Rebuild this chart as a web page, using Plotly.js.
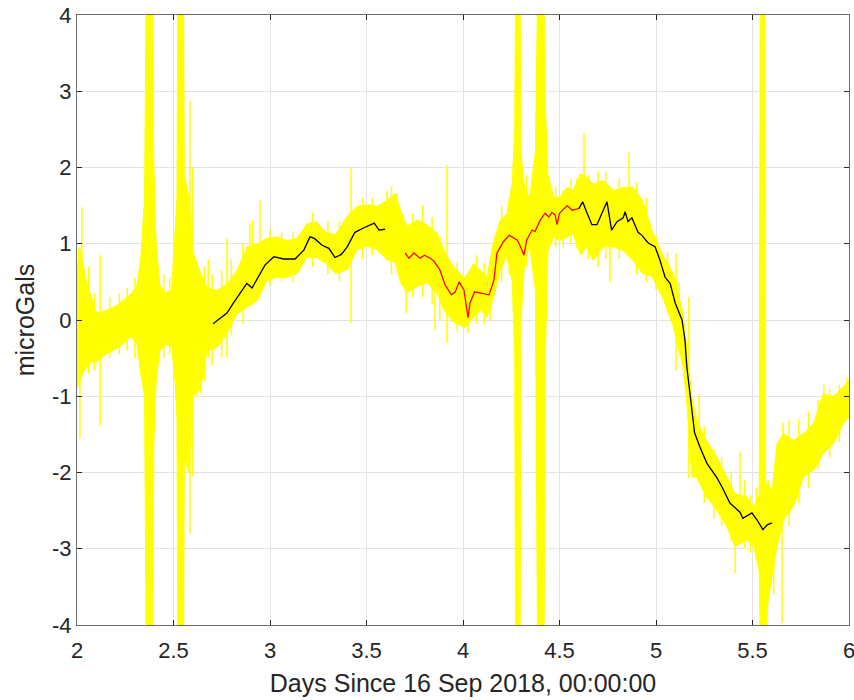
<!DOCTYPE html>
<html>
<head>
<meta charset="utf-8">
<script src="https://cdn.plot.ly/plotly-3.0.1.min.js"></script>
<style>html,body{margin:0;padding:0;background:#fff;}#chart{width:854px;height:700px;}</style>
</head>
<body>
<div id="chart"></div>
<script>
// ---- yellow raw-data envelope ----
const bandX  = [2.000,2.010,2.030,2.050,2.075,2.100,2.125,2.155,2.200,2.240,2.280,2.310,2.330,2.350,2.358,2.392,2.398,2.410,2.430,2.460,2.490,2.508,2.518,2.522,2.552,2.556,2.580,2.600,2.640,2.674,2.726,2.777,2.829,2.881,2.933,2.985,3.036,3.088,3.140,3.190,3.240,3.290,3.340,3.400,3.450,3.503,3.555,3.606,3.650,3.676,3.710,3.762,3.813,3.865,3.900,3.950,4.010,4.055,4.090,4.124,4.159,4.193,4.228,4.255,4.268,4.272,4.296,4.300,4.320,4.345,4.375,4.386,4.420,4.426,4.440,4.470,4.500,4.540,4.570,4.610,4.640,4.675,4.727,4.780,4.830,4.880,4.930,4.980,5.040,5.090,5.140,5.160,5.186,5.210,5.262,5.314,5.365,5.410,5.471,5.506,5.535,5.540,5.563,5.568,5.580,5.600,5.627,5.660,5.712,5.764,5.816,5.867,5.920,5.970,6.000];
const bandHi = [0.60,0.95,0.75,0.48,0.30,0.10,0.10,0.13,0.18,0.26,0.34,0.45,0.80,1.60,4.2,4.2,2.05,1.00,0.45,0.35,0.40,1.15,1.60,4.2,4.2,1.90,1.60,0.90,0.61,0.43,0.39,0.47,0.65,0.96,1.00,1.07,1.09,1.04,1.07,1.26,1.29,1.15,1.12,1.36,1.49,1.51,1.49,1.57,1.66,1.44,1.23,1.31,1.25,1.14,0.92,0.70,0.55,0.74,0.65,0.56,1.04,1.31,1.39,1.80,2.5,4.2,4.2,2.2,1.70,1.61,2.2,4.2,4.2,2.85,1.9,1.61,1.61,1.74,1.70,1.92,1.87,1.78,1.83,1.70,1.74,1.74,1.57,1.17,0.83,0.61,0.09,-0.35,-1.00,-1.31,-1.58,-1.79,-2.05,-2.28,-2.32,-2.45,-2.3,4.2,4.2,-2.2,-2.1,-2.28,-1.62,-1.49,-1.58,-1.49,-1.36,-0.97,-1.00,-0.88,-0.79];
const bandLo = [-0.90,-0.85,-0.70,-0.62,-0.55,-0.55,-0.50,-0.44,-0.38,-0.31,-0.22,-0.30,-0.70,-1.00,-4.2,-4.2,-1.60,-0.80,-0.40,-0.32,-0.35,-0.80,-1.30,-4.2,-4.2,-1.80,-2.00,-1.00,-0.90,-0.40,-0.36,-0.18,0.08,0.17,0.25,0.52,0.56,0.56,0.61,0.82,0.82,0.74,0.61,0.66,0.92,0.97,0.92,0.79,0.75,0.49,0.36,0.44,0.49,0.36,0.14,-0.03,-0.10,0.04,0.13,0.04,0.30,0.65,0.83,0.50,-0.5,-4.2,-4.2,0.0,0.80,0.96,0.4,-4.2,-4.2,-0.5,0.9,1.09,1.04,1.09,1.13,0.85,0.96,0.78,0.96,0.96,0.91,0.78,0.61,0.57,0.26,-0.09,-0.61,-1.10,-2.06,-2.06,-2.32,-2.49,-2.70,-2.97,-2.89,-2.97,-3.3,-4.2,-4.2,-4.2,-3.7,-3.37,-2.97,-2.62,-2.45,-2.06,-1.97,-1.75,-1.62,-1.36,-1.27];

// yellow spikes sticking out of the band (x, top, bottom)
const spikeX   = [2.015,2.025,2.060,2.090,2.120,2.170,2.220,2.260,2.300,2.450,2.480,2.585,2.600,2.620,2.640,2.660,2.680,2.700,2.750,2.777,2.800,2.860,2.896,2.910,2.948,3.000,3.060,3.120,3.220,3.300,3.360,3.420,3.480,3.530,3.606,3.630,3.658,3.705,3.740,3.790,3.840,3.855,3.880,3.917,3.970,4.026,4.070,4.110,4.140,4.200,4.240,4.330,4.360,4.480,4.520,4.560,4.590,4.627,4.650,4.700,4.740,4.762,4.810,4.860,4.900,4.950,5.000,5.060,5.104,5.120,5.170,5.223,5.250,5.300,5.340,5.390,5.410,5.435,5.460,5.490,5.520,5.610,5.653,5.658,5.690,5.740,5.790,5.840,5.870,5.900,5.950,5.990];
const spikeTop = [0.95,1.48,0.70,0.35,0.85,0.30,0.35,0.42,0.55,0.60,0.55,2.88,2.00,0.75,0.61,0.70,0.80,0.60,0.65,1.07,0.80,1.00,1.27,1.30,1.57,1.20,1.15,1.15,1.40,1.30,1.30,1.99,1.60,1.60,1.70,1.75,1.66,1.20,1.40,1.50,1.35,1.10,1.10,2.03,0.75,0.40,0.85,0.75,0.80,1.50,1.60,1.90,1.80,1.75,1.70,1.85,1.85,2.45,1.90,1.95,1.95,1.20,1.85,2.20,1.80,1.60,1.10,0.90,0.87,0.50,0.30,-0.97,-1.40,-1.70,-1.80,-2.00,-2.40,-1.72,-2.10,-2.30,-2.20,-2.00,-2.50,-1.35,-1.30,-1.30,-1.20,-1.05,-0.85,-0.90,-0.85,-0.75];
const spikeBot = [-1.55,0.20,-0.70,-0.66,-1.38,-0.50,-0.45,-0.40,-0.50,-0.50,-0.45,-2.80,-2.05,-1.00,-0.96,-0.80,-0.50,-0.60,-0.50,-0.49,-0.20,-0.05,0.20,0.20,0.40,0.45,0.50,0.50,0.70,0.60,0.50,-0.04,0.80,0.85,0.90,0.60,0.80,0.09,0.30,0.30,0.20,-0.13,0.00,-0.30,-0.15,-0.17,-0.05,-0.05,0.00,0.50,0.60,0.70,0.80,0.95,0.95,1.00,0.95,1.20,0.80,0.70,0.80,0.50,0.80,1.00,0.60,0.50,0.40,0.10,-0.66,-0.40,-2.07,-2.00,-2.40,-2.60,-2.70,-2.90,-3.32,-2.60,-3.00,-3.05,-3.10,-3.60,-3.97,-2.40,-2.70,-2.40,-2.20,-1.95,-1.70,-1.80,-1.60,-1.30];

// ---- filtered segments ----
const black1X = [2.705,2.740,2.777,2.810,2.845,2.880,2.907,2.930,2.950,2.974,3.020,3.070,3.130,3.176,3.207,3.230,3.270,3.305,3.337,3.370,3.400,3.440,3.487,3.540,3.565,3.596];
const black1Y = [-0.05,0.02,0.09,0.22,0.35,0.48,0.42,0.52,0.62,0.72,0.83,0.80,0.80,0.92,1.09,1.07,0.98,0.94,0.82,0.86,0.96,1.15,1.21,1.27,1.18,1.19];

const redX = [3.700,3.720,3.746,3.777,3.800,3.830,3.850,3.880,3.907,3.940,3.960,3.980,4.005,4.026,4.036,4.060,4.098,4.135,4.160,4.176,4.210,4.240,4.280,4.295,4.316,4.330,4.358,4.373,4.400,4.425,4.445,4.460,4.477,4.487,4.500,4.540,4.565,4.600];
const redY = [0.88,0.81,0.88,0.81,0.85,0.81,0.77,0.66,0.46,0.33,0.37,0.50,0.39,0.03,0.22,0.37,0.35,0.33,0.52,0.88,1.03,1.11,1.05,0.98,0.85,1.05,1.18,1.16,1.31,1.40,1.35,1.41,1.38,1.25,1.40,1.50,1.44,1.46];

const black2X = [4.600,4.620,4.640,4.668,4.694,4.710,4.746,4.770,4.798,4.830,4.840,4.855,4.875,4.907,4.927,4.960,4.995,5.020,5.047,5.073,5.100,5.135,5.150,5.160,5.176,5.200,5.228,5.264,5.316,5.342,5.383,5.435,5.450,5.497,5.523,5.554,5.575,5.600];
const black2Y = [1.46,1.55,1.42,1.25,1.25,1.35,1.55,1.18,1.29,1.34,1.42,1.29,1.34,1.15,1.11,1.01,0.96,0.79,0.56,0.48,0.22,0.00,-0.26,-0.62,-0.96,-1.48,-1.67,-1.88,-2.07,-2.19,-2.40,-2.52,-2.60,-2.53,-2.62,-2.75,-2.69,-2.66];

const xTicks = [2,2.5,3,3.5,4,4.5,5,5.5,6];
const xTickText = ['2','2.5','3','3.5','4','4.5','5','5.5','6'];
const yTicks = [-4,-3,-2,-1,0,1,2,3,4];
const yTickText = ['-4','-3','-2','-1','0','1','2','3','4'];

// build traces
const polyX = bandX.concat(bandX.slice().reverse());
const polyY = bandHi.concat(bandLo.slice().reverse());
const sx = [], sy = [];
for (let i = 0; i < spikeX.length; i++) {
  sx.push(spikeX[i], spikeX[i], null);
  sy.push(spikeBot[i], spikeTop[i], null);
}
const yellow = '#FFFF00';
const traces = [
  {x: polyX, y: polyY, type: 'scatter', mode: 'lines', fill: 'toself', fillcolor: yellow,
   line: {color: yellow, width: 1}, hoverinfo: 'skip'},
  {x: sx, y: sy, type: 'scatter', mode: 'lines', line: {color: yellow, width: 1.5}, hoverinfo: 'skip'},
  {x: black1X, y: black1Y, type: 'scatter', mode: 'lines', line: {color: '#000000', width: 1.3}},
  {x: redX, y: redY, type: 'scatter', mode: 'lines', line: {color: '#FF0000', width: 1.3}},
  {x: black2X, y: black2Y, type: 'scatter', mode: 'lines', line: {color: '#000000', width: 1.3}}
];

const fam = 'Liberation Sans, Arial, sans-serif';
const axFont = {family: fam, size: 22, color: '#262626'};
const titleFont = {family: fam, size: 25, color: '#262626'};
const layout = {
  width: 854, height: 700,
  margin: {l: 77, r: 5, t: 15, b: 75},
  paper_bgcolor: '#ffffff', plot_bgcolor: '#ffffff',
  showlegend: false,
  xaxis: {
    range: [2, 6], tickvals: xTicks, ticktext: xTickText,
    showgrid: true, gridcolor: '#e3e3e3', gridwidth: 1, zeroline: false,
    showline: true, linecolor: '#6e6e6e', linewidth: 1, mirror: 'ticks',
    ticks: 'inside', ticklen: 5, tickcolor: '#262626', tickwidth: 1,
    tickfont: axFont, ticklabelstandoff: 6, ticklabeloverflow: 'allow',
    automargin: false,
    title: {text: 'Days Since 16 Sep 2018, 00:00:00', font: titleFont, standoff: 12}
  },
  yaxis: {
    range: [-4, 4], tickvals: yTicks, ticktext: yTickText,
    showgrid: true, gridcolor: '#e3e3e3', gridwidth: 1, zeroline: false,
    showline: true, linecolor: '#6e6e6e', linewidth: 1, mirror: 'ticks',
    ticks: 'inside', ticklen: 5, tickcolor: '#262626', tickwidth: 1,
    tickfont: axFont, ticklabeloverflow: 'allow', automargin: false,
    title: {text: 'microGals', font: titleFont, standoff: 10}
  }
};
Plotly.newPlot('chart', traces, layout, {displayModeBar: false, staticPlot: true});
</script>
</body>
</html>
